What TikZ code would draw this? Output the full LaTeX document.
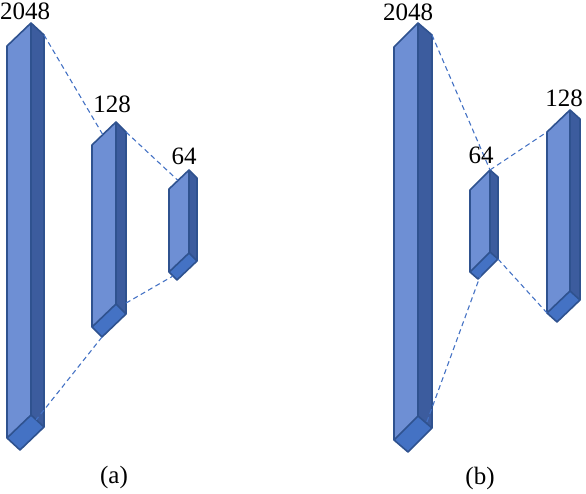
\documentclass[tikz,border=0pt]{standalone}
\usepackage{fontspec}
\setmainfont{Liberation Serif}
\usetikzlibrary{calc}
\definecolor{frontc}{HTML}{6E8FD4}
\definecolor{sidec}{HTML}{3C5C9E}
\definecolor{bottomc}{HTML}{4472C4}
\definecolor{edgec}{HTML}{2F528F}
\definecolor{dashc}{HTML}{4472C4}
\newcommand\prismbox[8]{%
  \coordinate (#1-ftl) at (#2,#3);
  \coordinate (#1-ftr) at ($(#1-ftl)+(#4,#5)$);
  \coordinate (#1-rtr) at ($(#1-ftr)+(#6,#7)$);
  \coordinate (#1-fbl) at ($(#1-ftl)+(0,#8)$);
  \coordinate (#1-fbr) at ($(#1-ftr)+(0,#8)$);
  \coordinate (#1-rbr) at ($(#1-rtr)+(0,#8)$);
  \coordinate (#1-bb) at ($(#1-fbl)+(#6,#7)$);
  \fill[frontc] (#1-ftl) -- (#1-ftr) -- (#1-fbr) -- (#1-fbl) -- cycle;
  \fill[sidec] (#1-ftr) -- (#1-rtr) -- (#1-rbr) -- (#1-fbr) -- cycle;
  \fill[bottomc] (#1-fbl) -- (#1-fbr) -- (#1-rbr) -- (#1-bb) -- cycle;
  \draw[edgeline] (#1-ftl) -- (#1-ftr) -- (#1-rtr) -- (#1-rbr) -- (#1-bb) -- (#1-fbl) -- cycle;
  \draw[edgeline] (#1-ftr) -- (#1-fbr) -- (#1-fbl);
  \draw[edgeline] (#1-fbr) -- (#1-rbr);
}
\begin{document}
\begin{tikzpicture}[x=1pt,y=-1pt,
  edgeline/.style={draw=edgec,line width=1.6pt,line join=round},
  dashline/.style={draw=dashc,line width=1.1pt,dash pattern=on 5pt off 3.5pt},
  lbl/.style={font=\fontsize{25}{29}\selectfont,inner sep=0pt}]
\useasboundingbox (0,0) rectangle (586,494);
% (a)
\prismbox{A1}{7}{46}{24}{-23}{13}{12}{392}
\prismbox{A2}{92}{145}{24}{-23}{10}{10}{182}
\prismbox{A3}{169}{189}{20}{-19}{8}{8}{83}
% (b)
\prismbox{B1}{394}{47}{24}{-24}{14}{12}{393}
\prismbox{B2}{470}{190}{20}{-20}{8}{7}{82}
\prismbox{B3}{547}{132}{23}{-22}{10}{9}{181}
% dashed connectors (a)
\draw[dashline] (A1-rtr) -- ($(A2-ftl)!0.45!(A2-ftr)$);
\draw[dashline] (A2-rtr) -- ($(A3-ftl)!0.45!(A3-ftr)$);
\draw[dashline] (A2-bb) -- ($(A1-fbr)!0.4!(A1-rbr)$);
\draw[dashline] ($(A2-rtr)!0.94!(A2-rbr)$) -- ($(A3-fbl)!0.5!(A3-bb)$);
% dashed connectors (b)
\draw[dashline] (B1-rtr) -- (B2-ftr);
\draw[dashline] (B2-ftr) -- (B3-ftl);
\draw[dashline] ($(B2-fbr)!0.5!(B2-bb)$) -- ($(B1-fbr)!0.6!(B1-rbr)$);
\draw[dashline] (B2-rbr) -- (B3-fbl);
% labels
\node[lbl] (la1) at (25,11) {2048};
\node[lbl] (la2) at (112,104) {128};
\node[lbl] (la3) at (184,156) {64};
\node[lbl] (lb1) at (408,12) {2048};
\node[lbl] (lb2) at (481,155) {64};
\node[lbl] (lb3) at (564,98) {128};
\node[lbl] (capa) at (114,477) {(a)};
\node[lbl] (capb) at (480,478) {(b)};
\end{tikzpicture}
\end{document}
